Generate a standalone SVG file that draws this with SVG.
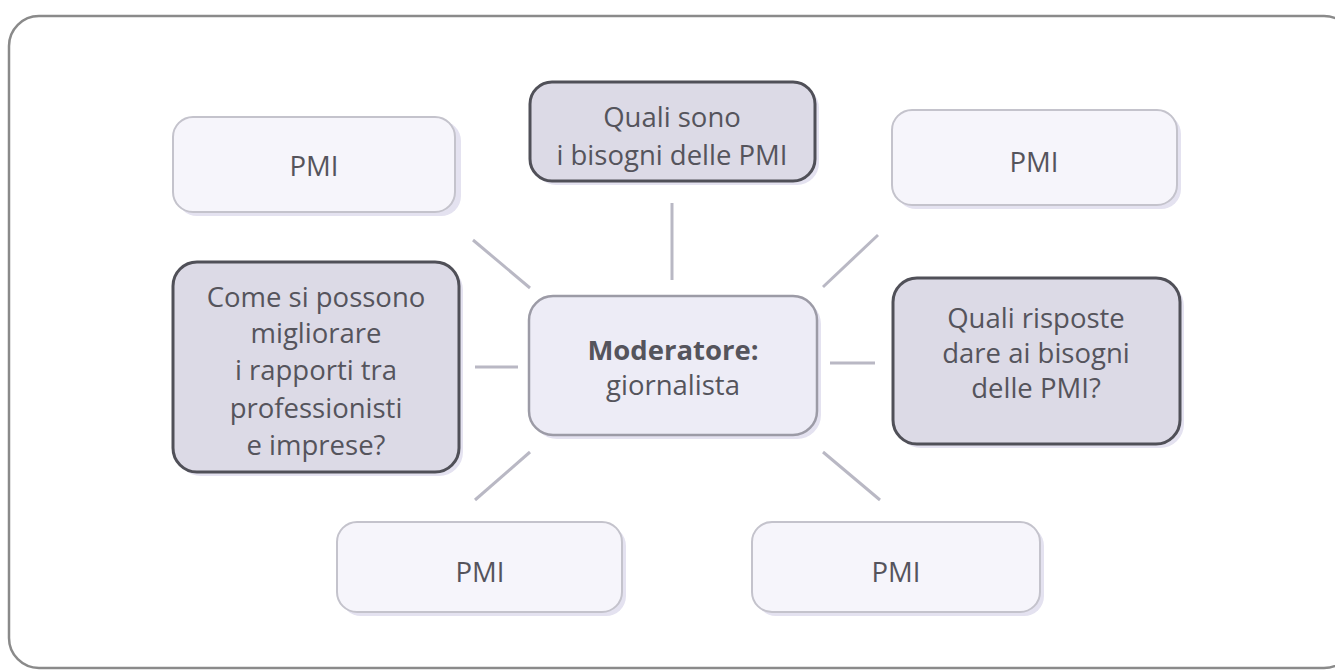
<svg xmlns="http://www.w3.org/2000/svg" width="1335" height="672" viewBox="0 0 1335 672">
<style>
  .frame{fill:#ffffff;stroke:#8a8a8a;stroke-width:2.5}
  .pmi{fill:#f6f5fb;stroke:#c4c3cc;stroke-width:2}
  .q{fill:#dcdae6;stroke:#505058;stroke-width:3}
  .c{fill:#edecf6;stroke:#9c9ba6;stroke-width:2.5}
  .sh{fill:#e4e2f0}
  .t{font-family:"Open Sans","Liberation Sans",sans-serif;font-size:27.5px;fill:#55545c;text-anchor:middle}
  .b{font-weight:bold}
  .ln{stroke:#b9b8c4;stroke-width:3;fill:none}
</style>
<rect class="frame" x="9" y="16" width="1345" height="652" rx="30"/>
<g id="connectors">
  <line class="ln" x1="672" y1="203" x2="672" y2="280"/>
  <line class="ln" x1="473" y1="240" x2="530" y2="288"/>
  <line class="ln" x1="878" y1="235" x2="823" y2="287"/>
  <line class="ln" x1="475" y1="367" x2="518" y2="367"/>
  <line class="ln" x1="830" y1="363" x2="875" y2="363"/>
  <line class="ln" x1="530" y1="452" x2="475" y2="500"/>
  <line class="ln" x1="823" y1="452" x2="880" y2="500"/>
</g>
<g id="pmi-tl">
  <rect class="sh" x="177" y="121" width="284" height="95" rx="20"/>
  <rect class="pmi" x="173" y="117" width="282" height="95" rx="20"/>
  <text class="t" x="314" y="176">PMI</text>
</g>
<g id="q-top">
  <rect class="sh" x="534" y="86" width="285" height="99" rx="22"/>
  <rect class="q" x="530" y="82" width="285" height="99" rx="22"/>
  <text class="t" x="672" y="127">Quali sono</text>
  <text class="t" x="672" y="165">i bisogni delle PMI</text>
</g>
<g id="pmi-tr">
  <rect class="sh" x="896" y="114" width="285" height="95" rx="20"/>
  <rect class="pmi" x="892" y="110" width="285" height="95" rx="20"/>
  <text class="t" x="1034" y="172">PMI</text>
</g>
<g id="q-left">
  <rect class="sh" x="177" y="266" width="286" height="210" rx="24"/>
  <rect class="q" x="173" y="262" width="286" height="210" rx="24"/>
  <text class="t" x="316" y="307">Come si possono</text>
  <text class="t" x="316" y="343">migliorare</text>
  <text class="t" x="316" y="380">i rapporti tra</text>
  <text class="t" x="316" y="418">professionisti</text>
  <text class="t" x="316" y="455">e imprese?</text>
</g>
<g id="center">
  <rect class="sh" x="533" y="300" width="288" height="139" rx="24"/>
  <rect class="c" x="529" y="296" width="288" height="139" rx="24"/>
  <text class="t b" x="673" y="360">Moderatore:</text>
  <text class="t" x="673" y="395">giornalista</text>
</g>
<g id="q-right">
  <rect class="sh" x="897" y="282" width="287" height="166" rx="24"/>
  <rect class="q" x="893" y="278" width="287" height="166" rx="24"/>
  <text class="t" x="1036" y="328">Quali risposte</text>
  <text class="t" x="1036" y="363">dare ai bisogni</text>
  <text class="t" x="1036" y="398">delle PMI?</text>
</g>
<g id="pmi-bl">
  <rect class="sh" x="341" y="526" width="285" height="90" rx="20"/>
  <rect class="pmi" x="337" y="522" width="285" height="90" rx="20"/>
  <text class="t" x="480" y="582">PMI</text>
</g>
<g id="pmi-br">
  <rect class="sh" x="756" y="526" width="288" height="90" rx="20"/>
  <rect class="pmi" x="752" y="522" width="288" height="90" rx="20"/>
  <text class="t" x="896" y="582">PMI</text>
</g>
</svg>
